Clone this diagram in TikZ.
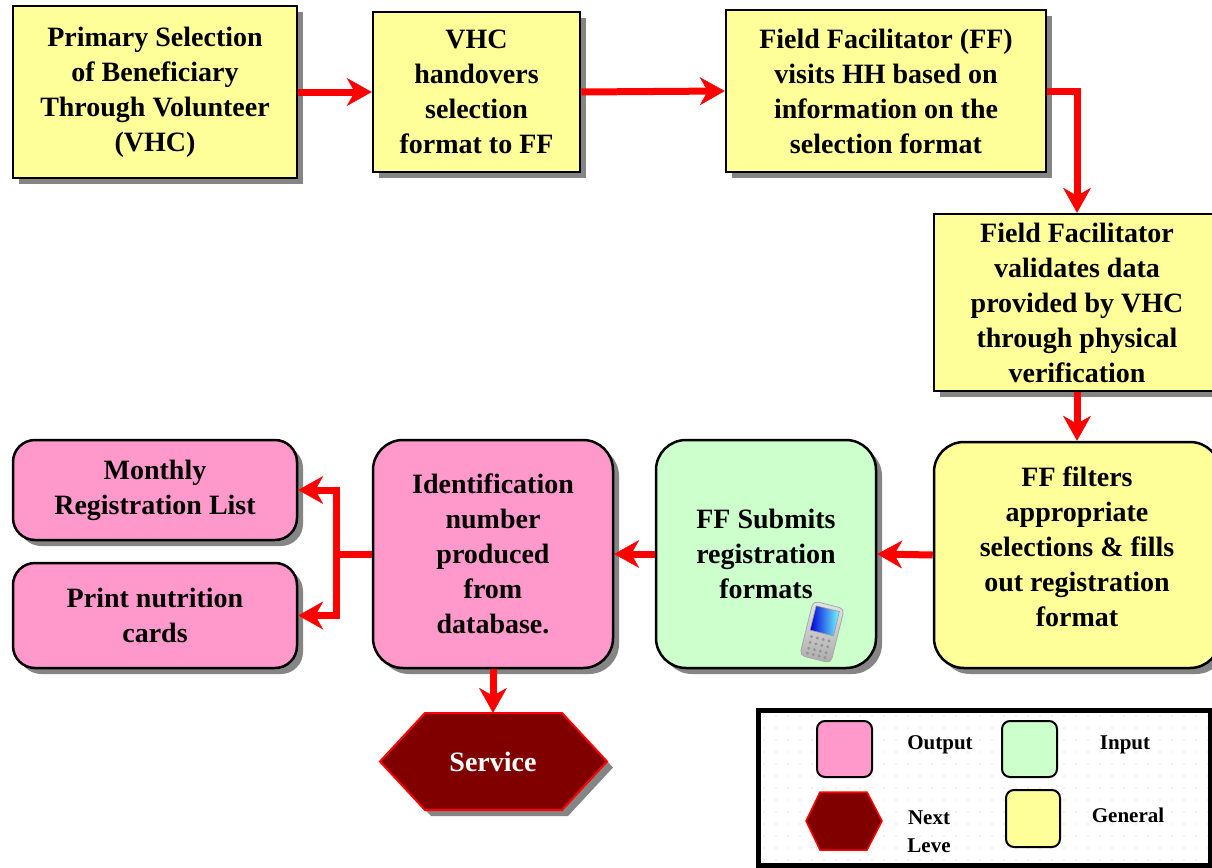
\documentclass[tikz,border=0pt]{standalone}
\usepackage{fontspec}
\setmainfont{Liberation Serif}
\newfontfamily\boxfont{Liberation Serif}[UprightFont={* Bold}]
\usetikzlibrary{arrows.meta,shadows,calc}
\definecolor{ybox}{HTML}{FFFF99}
\definecolor{pbox}{HTML}{FF99CC}
\definecolor{gbox}{HTML}{CCFFCC}
\definecolor{dred}{HTML}{800000}
\definecolor{arrred}{HTML}{FF0000}
\definecolor{shad}{HTML}{858585}
\definecolor{dotc}{HTML}{E4E4D6}
\begin{document}
\begin{tikzpicture}[x=1pt,y=-1pt,
  mainfont/.style={font=\fontsize{28}{35}\selectfont\boxfont},
  legfont/.style={font=\fontsize{21}{28}\selectfont\boxfont},
  shadowed/.style={drop shadow={shadow xshift=6pt,shadow yshift=-6pt,fill=shad,opacity=1}},
  sqbox/.style={draw=black,line width=2.5pt,fill=ybox,align=center,inner sep=0pt,mainfont,shadowed},
  rbox/.style={sqbox,rounded corners=30pt},
  legsq/.style={draw=black,line width=2pt,rounded corners=8pt,inner sep=0pt,minimum width=55pt,minimum height=56pt},
  txt/.style={align=center,inner sep=0pt,mainfont},
  legtxt/.style={align=center,inner sep=0pt,legfont},
  arr/.style={draw=arrred,line width=7pt,-{Stealth[length=25pt,width=28pt,inset=8pt,line width=0.5pt]}},
  redline/.style={draw=arrred,line width=7pt}
]
\useasboundingbox (0,0) rectangle (1212,867);
\fill[white] (0,0) rectangle (1212,867);

% top row
\node[sqbox,minimum width=284pt,minimum height=172pt] (p1) at (155,92)
  {Primary Selection\\of Beneficiary\\Through Volunteer\\(VHC)};
\node[sqbox,minimum width=207pt,minimum height=160pt] (p2) at (476.5,92)
  {VHC\\handovers\\selection\\format to FF};
\node[sqbox,minimum width=320pt,minimum height=162pt] (p3) at (886,91)
  {Field Facilitator (FF)\\visits HH based on\\information on the\\selection format};
\node[sqbox,minimum width=286pt,minimum height=177pt] (p4) at (1077,302.5)
  {Field Facilitator\\validates data\\provided by VHC\\through physical\\verification};

% bottom row
\node[rbox,minimum width=286pt,minimum height=226pt] (p5) at (1077,555) {};
\node[txt] (p5t) at (1077,547)
  {FF filters\\appropriate\\selections \& fills\\out registration\\format};
\node[rbox,fill=gbox,minimum width=220pt,minimum height=228pt] (p6) at (766,554)
  {FF Submits\\registration\\formats};
\node[rbox,fill=pbox,minimum width=240pt,minimum height=228pt] (p7) at (493,554)
  {Identification\\number\\produced\\from\\database.};
\node[rbox,rounded corners=22pt,fill=pbox,minimum width=284pt,minimum height=100pt] (p8) at (155,490)
  {Monthly\\Registration List};
\node[rbox,rounded corners=22pt,fill=pbox,minimum width=284pt,minimum height=105pt] (p9) at (155,615.5)
  {Print nutrition\\cards};

% phone icon
\begin{scope}[shift={(822,632)},rotate=-14]
  \shade[rounded corners=5pt,top color=gray!20,bottom color=gray!65,draw=gray!70,line width=0.8pt] (-16,-28) rectangle (16,28);
  \shade[left color=blue!85!black,right color=cyan!55,draw=gray!80,line width=0.6pt] (-12,-24) rectangle (12,1);
  \foreach \i in {-9,-3,3,9}{\foreach \j in {7,13,19,24}{\fill[gray!85] (\i,\j) circle (1.6pt);}}
\end{scope}

% service hexagon
\path[draw=red,line width=2pt,fill=dred,shadowed]
  (425,713) -- (562,713) -- (607,761.5) -- (562,810) -- (425,810) -- (380,761.5) -- cycle;
\node[txt,text=white,minimum width=227pt,minimum height=97pt] (svc) at (493,761.5) {Service};

% connectors
\draw[arr] (p1.east) -- (p2.west);
\draw[arr] (p2.east) -- (p3.west);
\draw[arr] (p3.east) -| (p4.north);
\draw[arr] (p4.south) -- (p5.north);
\draw[arr] (p5.west) -- (p6.east);
\draw[arr] (p6.west) -- (p7.east);
\coordinate (j) at (336,554);
\draw[redline] (p7.west) -- (j);
\draw[arr] ([yshift=-3.5pt]j) |- (p8.east);
\draw[arr] ([yshift=3.5pt]j) |- (p9.east);
\draw[arr] (p7.south) -- (svc.north);

% legend
\fill[white] (758,710) rectangle (1212,867);
\begin{scope}
  \clip (760,712) rectangle (1208,863);
  \foreach \x in {764,776,...,1208}{\foreach \y in {716,728,...,863}{\fill[dotc] (\x,\y) circle (0.9pt);}}
\end{scope}
\draw[line width=5pt] (758,710) rectangle (1210,865);
\node[legsq,fill=pbox] (lo) at (844.5,749) {};
\node[legtxt] (lot) at (940,745) {Output};
\node[legsq,fill=gbox] (li) at (1029.5,749) {};
\node[legtxt] (lit) at (1125,745) {Input};
\path[draw=red,line width=1.5pt,fill=dred]
  (820,792) -- (867,792) -- (882,821) -- (867,850) -- (820,850) -- (806,821) -- cycle;
\node[legtxt] (lnt) at (929,832) {Next\\Leve};
\node[legsq,fill=ybox,minimum width=54pt,minimum height=57pt] (lg) at (1033,818.5) {};
\node[legtxt] (lgt) at (1128,815) {General};
\end{tikzpicture}
\end{document}
